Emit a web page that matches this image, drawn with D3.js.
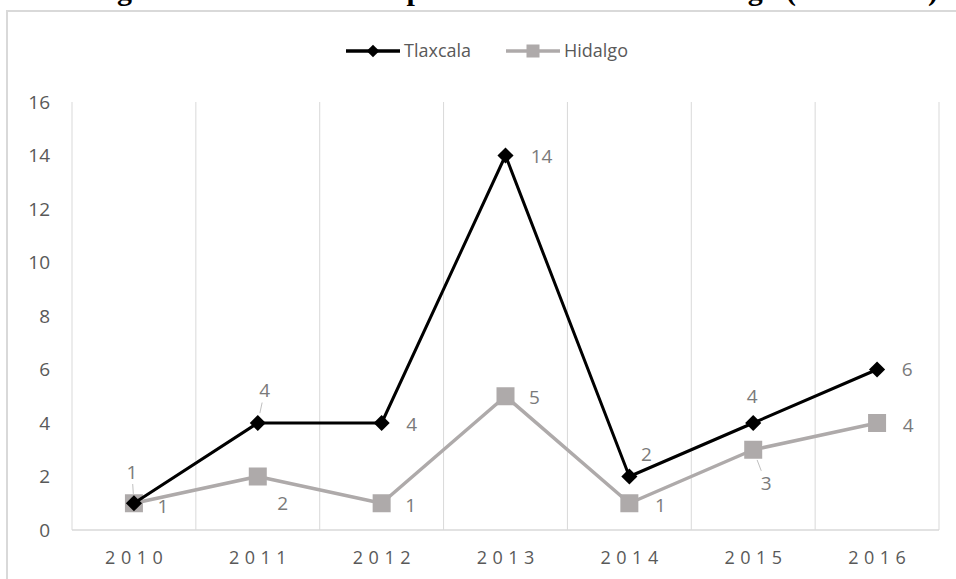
<!DOCTYPE html>
<html>
<head>
<meta charset="utf-8">
<script src="https://cdn.jsdelivr.net/npm/d3@7"></script>
<style>
    body { margin: 0; background: #ffffff; }
    svg { display: block; }
</style>
</head>
<body>
<div id="content_svg"></div>
<script>
// Datos de la figura
var anios = ["2010", "2011", "2012", "2013", "2014", "2015", "2016"];
var tlaxcala = [1, 4, 4, 14, 2, 4, 6];
var hidalgo = [1, 2, 1, 5, 1, 3, 4];
var ticksY = [0, 2, 4, 6, 8, 10, 12, 14, 16];
var series = ["Tlaxcala", "Hidalgo"];
var titulo = "Figura 3. Número de empresas en Tlaxcala e Hidalgo (2010-2016)";

// Donde va cada etiqueta de dato (desplazamiento respecto al punto) y si lleva guia
var etqTlaxcala = [[-2, -31, 1], [7, -33, 1], [30, 1, 0], [36, 1, 0], [17, -22, 0], [-1, -27, 0], [30, 0, 0]];
var etqHidalgo = [[29, 3, 0], [25, 27, 0], [29, 2, 0], [29, 1, 0], [31, 2, 0], [13, 34, 1], [31, 2, 0]];

var W = 956, H = 579;
var fuente = "'Open Sans', 'Noto Sans', sans-serif";

var svg = d3.select("#content_svg")
    .append("svg")
    .attr("width", W)
    .attr("height", H);

// marco del grafico
svg.append("rect")
    .attr("x", 7)
    .attr("y", 11)
    .attr("width", 980)
    .attr("height", 620)
    .attr("fill", "#ffffff")
    .attr("stroke", "#d9d9d9")
    .attr("stroke-width", 2);

// titulo cortado arriba (solo se ven las colas)
svg.append("text")
    .attr("x", 90)
    .attr("y", 0)
    .attr("textLength", 848)
    .attr("lengthAdjust", "spacing")
    .attr("font-family", "'Liberation Serif', 'Times New Roman', serif")
    .attr("font-weight", "bold")
    .attr("font-size", 30)
    .attr("fill", "#000000")
    .text(titulo);

var x = d3.scaleBand()
    .domain(anios)
    .range([72, 939])
    .padding(0);

var y = d3.scaleLinear()
    .domain([0, 16])
    .range([530, 102]);

// lineas verticales de la cuadricula
var bordes = anios.map(function(a) { return x(a); }).concat([x.range()[1]]);
svg.append("g")
    .selectAll("line")
    .data(bordes)
    .enter()
    .append("line")
    .attr("x1", function(d) { return d; })
    .attr("x2", function(d) { return d; })
    .attr("y1", y(16))
    .attr("y2", y(0))
    .attr("stroke", "#d9d9d9")
    .attr("stroke-width", 1);

// eje horizontal
svg.append("line")
    .attr("x1", x.range()[0])
    .attr("x2", x.range()[1])
    .attr("y1", y(0))
    .attr("y2", y(0))
    .attr("stroke", "#d9d9d9")
    .attr("stroke-width", 1.5);

// eje Y
var ejeY = svg.append("g")
    .attr("transform", "translate(" + x.range()[0] + ",0)")
    .call(d3.axisLeft(y).tickValues(ticksY).tickSize(0).tickPadding(22));
ejeY.select(".domain").remove();
ejeY.selectAll("text")
    .attr("font-family", fuente)
    .attr("font-size", 19)
    .attr("fill", "#595959");

// eje X
var ejeX = svg.append("g")
    .attr("transform", "translate(0," + y(0) + ")")
    .call(d3.axisBottom(x).tickSize(0).tickPadding(21));
ejeX.select(".domain").remove();
ejeX.selectAll("text")
    .attr("font-family", fuente)
    .attr("font-size", 18)
    .attr("letter-spacing", "5.5px")
    .attr("dx", "2.75px")
    .attr("fill", "#595959");

var cx = function(i) { return x(anios[i]) + x.bandwidth() / 2; };

var linea = d3.line()
    .x(function(d, i) { return cx(i); })
    .y(function(d) { return y(d); });

// serie Hidalgo (gris, cuadrados)
svg.append("path")
    .datum(hidalgo)
    .attr("d", linea)
    .attr("fill", "none")
    .attr("stroke", "#aeaaaa")
    .attr("stroke-width", 3.5)
    .attr("stroke-linejoin", "round");

svg.append("g")
    .selectAll("rect")
    .data(hidalgo)
    .enter()
    .append("rect")
    .attr("x", function(d, i) { return cx(i) - 9; })
    .attr("y", function(d) { return y(d) - 9; })
    .attr("width", 18)
    .attr("height", 18)
    .attr("fill", "#aeaaaa");

// serie Tlaxcala (negro, rombos)
svg.append("path")
    .datum(tlaxcala)
    .attr("d", linea)
    .attr("fill", "none")
    .attr("stroke", "#000000")
    .attr("stroke-width", 3)
    .attr("stroke-linejoin", "round");

var rombo = d3.symbol().type(d3.symbolSquare).size(130);
svg.append("g")
    .selectAll("path")
    .data(tlaxcala)
    .enter()
    .append("path")
    .attr("d", rombo)
    .attr("transform", function(d, i) { return "translate(" + cx(i) + "," + y(d) + ") rotate(45)"; })
    .attr("fill", "#000000");

// etiquetas de datos
function etiquetas(valores, pos) {
    var g = svg.append("g");
    valores.forEach(function(v, i) {
        var px = cx(i), py = y(v);
        var dx = pos[i][0], dy = pos[i][1];
        if (pos[i][2]) {
            g.append("line")
                .attr("x1", px + dx * 0.3)
                .attr("y1", py + dy * 0.3)
                .attr("x2", px + dx * 0.62)
                .attr("y2", py + dy * 0.62)
                .attr("stroke", "#bfbfbf")
                .attr("stroke-width", 1);
        }
        g.append("text")
            .attr("x", px + dx)
            .attr("y", py + dy)
            .attr("dy", "0.35em")
            .attr("text-anchor", "middle")
            .attr("font-family", fuente)
            .attr("font-size", 19)
            .attr("fill", "#7a7a7a")
            .text(v);
    });
}
etiquetas(tlaxcala, etqTlaxcala);
etiquetas(hidalgo, etqHidalgo);

// leyenda
var leyenda = svg.append("g").attr("transform", "translate(346,51)");
var items = [
    { nombre: series[0], color: "#000000", x: 0, marca: "rombo" },
    { nombre: series[1], color: "#aeaaaa", x: 160, marca: "cuadro" }
];
items.forEach(function(it) {
    var li = leyenda.append("g").attr("transform", "translate(" + it.x + ",0)");
    li.append("line")
        .attr("x1", 0).attr("x2", 54)
        .attr("y1", 0).attr("y2", 0)
        .attr("stroke", it.color)
        .attr("stroke-width", 3.5);
    if (it.marca == "rombo") {
        li.append("path")
            .attr("d", d3.symbol().type(d3.symbolSquare).size(80))
            .attr("transform", "translate(27,0) rotate(45)")
            .attr("fill", it.color);
    } else {
        li.append("rect")
            .attr("x", 20.5).attr("y", -6.5)
            .attr("width", 13).attr("height", 13)
            .attr("fill", it.color);
    }
    li.append("text")
        .attr("x", 58)
        .attr("y", 0)
        .attr("dy", "0.35em")
        .attr("font-family", fuente)
        .attr("font-size", 18)
        .attr("fill", "#595959")
        .text(it.nombre);
});
</script>
</body>
</html>
